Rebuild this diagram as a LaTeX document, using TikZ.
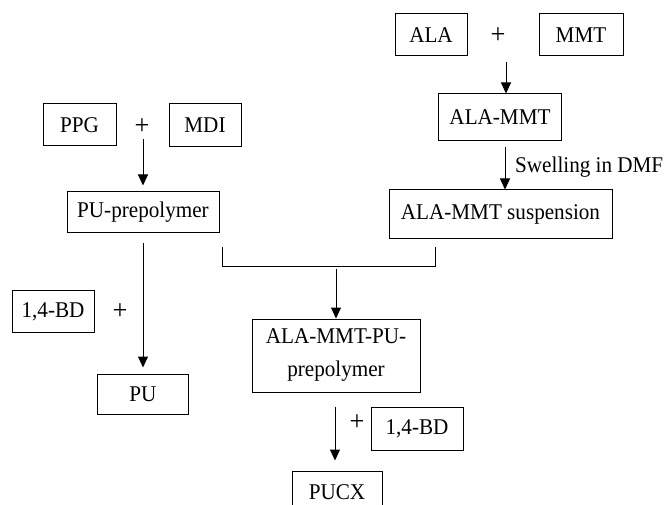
\documentclass[tikz,border=0pt]{standalone}
\usepackage{fontspec}
\setmainfont{Liberation Serif}[FakeStretch=0.94]
\usetikzlibrary{arrows.meta}
\begin{document}
\begin{tikzpicture}[x=1pt,y=-1pt,
  box/.style={draw, line width=1pt, inner sep=0pt, align=center, font=\fontsize{22.5}{33}\selectfont},
  lbl/.style={inner sep=0pt, font=\fontsize{22.5}{33}\selectfont},
  plus/.style={inner sep=0pt, font=\fontsize{28}{28}\selectfont},
  arr/.style={-{Triangle[length=11pt,width=10pt]}, line width=1pt},
  ln/.style={line width=1pt}]
\useasboundingbox (0,0) rectangle (667,505);
\clip (0,0) rectangle (667,505);
% right branch
\node[box, minimum width=72pt, minimum height=42pt] (ala) at (431,35) {ALA};
\node[plus] (plus1) at (498,36) {+};
\node[box, minimum width=84pt, minimum height=42pt] (mmt) at (581,35) {MMT};
\node[box, minimum width=123pt, minimum height=47pt] (alammt) at (500,117.5) {ALA-MMT};
\node[lbl, anchor=west] (sw) at (515,167) {Swelling in DMF};
\node[box, minimum width=223pt, minimum height=49pt] (susp) at (500.5,214.5) {ALA-MMT suspension};
% left branch
\node[box, minimum width=73pt, minimum height=42pt] (ppg) at (79.5,125) {PPG};
\node[plus] (plus2) at (142,127) {+};
\node[box, minimum width=72pt, minimum height=43pt] (mdi) at (205,125.5) {MDI};
\node[box, minimum width=152pt, minimum height=41pt] (pupre) at (143,212.5) {PU-prepolymer};
\node[box, minimum width=82pt, minimum height=41pt] (bdl) at (53,311.5) {1,4-BD};
\node[plus] (plus3) at (120,312) {+};
\node[box, minimum width=91pt, minimum height=40pt] (pu) at (143,394) {PU};
% middle branch
\node[box, minimum width=168pt, minimum height=73pt] (amp) at (336,355.5) {ALA-MMT-PU-\\prepolymer};
\node[plus] (plus4) at (357,423) {+};
\node[box, minimum width=92pt, minimum height=43pt] (bdr) at (417,428.5) {1,4-BD};
\node[box, minimum width=90pt, minimum height=42pt] (pucx) at (337,492) {PUCX};
% connectors
\coordinate (s1) at (506,62);
\draw[arr] (s1) -- (s1 |- alammt.north);
\draw[arr, shorten <=6pt] ([xshift=5pt]alammt.south) -- ([xshift=5pt]alammt.south |- susp.north);
\coordinate (s2) at (143,139);
\draw[arr, shorten >=6pt] (s2) -- (s2 |- pupre.north);
\draw[arr, shorten <=10pt, shorten >=6pt] (pupre.south) -- (pu.north);
\coordinate (bl) at (222,247);
\coordinate (br) at (435,247);
\coordinate (bm) at (336,267);
\draw[ln] (bl) -- (bl |- bm) -- (br |- bm) -- (br);
\draw[arr, shorten <=2pt] (bm) -- (bm |- amp.north);
\draw[arr, shorten <=14pt, shorten >=10pt] ([xshift=-1pt]amp.south) -- ([xshift=-1pt]amp.south |- pucx.north);
\end{tikzpicture}
\end{document}
